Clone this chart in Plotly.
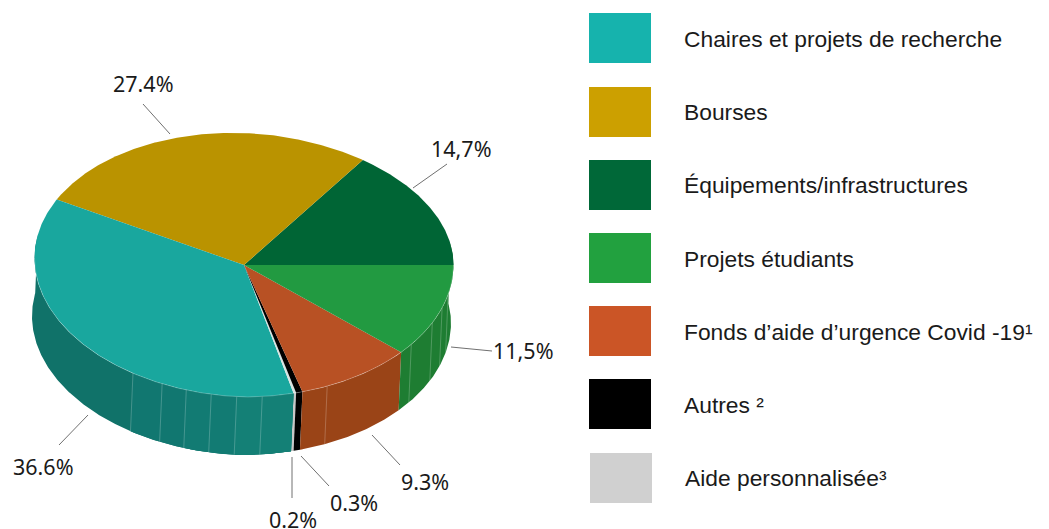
import math
import plotly.graph_objects as go

# ---- data (legend order) ----
categories = ["Chaires et projets de recherche", "Bourses", "Équipements/infrastructures",
              "Projets étudiants", "Fonds d’aide d’urgence Covid -19¹", "Autres ²", "Aide personnalisée³"]
printed_labels = ["36.6%", "27.4%", "14,7%", "11,5%", "9.3%", "0.3%", "0.2%"]
# slice shares as they are actually drawn in the picture (%), read from the slice boundaries
values = [36.2, 27.2, 15.4, 11.5, 9.0, 0.5, 0.2]
swatch_colors = ["#16B3AD", "#CCA000", "#006838", "#22A13F", "#CB5526", "#000000", "#D0D0D0"]
top_colors = ["#19A79E", "#BA9300", "#006535", "#229A41", "#B85124", "#000000", "#D8E4E2"]
side_colors = ["#107269", "#8A6D00", "#004D28", "#1E7D32", "#9A4417", "#000000", "#C8C8C8"]
draw_order = [2, 1, 0, 6, 5, 4, 3]           # counter-clockwise from the right

# side stripes, in degrees on the rim
stripe_angles = [238, 247, 254, 261, 268, 275, 293.4, 323, 334, 341, 347]
# lighter panels of the teal side: start angle, colour
teal_shades = [(238, "#117770"), (254, "#127B73"), (268, "#148076")]

# leader lines
leader_x = [[59, 88], [143, 170], [413, 447], [451, 492], [372, 400], [301, 329], [292, 292]]
leader_y = [[445, 415], [104, 134], [188, 164], [347, 351], [435, 465], [456, 486], [457, 498]]
label_x = [43, 143, 461, 523, 425, 354, 293]
label_y = [466, 83, 148, 350, 481, 502, 519]

legend_y = [39, 112, 185, 258.5, 332, 405, 478]
swatch_top = [13, 87, 160, 233, 306, 379, 453]

# ---- geometry ----
CX, CY, RX, RY = 244, 265, 209.5, 132
BX, BY = 241.5, 323
LABEL_FONT = "Noto Sans"
LEGEND_FONT = "Liberation Sans"


def rim(t, cx, cy):
    """Point on the slightly skewed rim of the disc."""
    c, s = math.cos(math.radians(t)), math.sin(math.radians(t))
    skew = 7 * c if c < 0 else (8 * c * s if s > 0 else 0)
    return cx + RX * c, cy - RY * s + skew


def arc(t0, t1, cx, cy, step=0.5):
    n = max(2, int(abs(t1 - t0) / step) + 1)
    pts = [rim(t0 + (t1 - t0) * i / (n - 1), cx, cy) for i in range(n)]
    return [p[0] for p in pts], [p[1] for p in pts]


fig = go.Figure()


def poly(xs, ys, color):
    fig.add_trace(go.Scatter(x=xs, y=ys, mode="lines", fill="toself", fillcolor=color,
                             line=dict(width=0, color=color), hoverinfo="skip", showlegend=False))


def side(t0, t1, color):
    x1, y1 = arc(t0, t1, CX, CY)
    x2, y2 = arc(t1, t0, BX, BY)
    poly(x1 + x2, y1 + y2, color)


# angular spans from values
spans = {}
a = 0.0
for i in draw_order:
    spans[i] = (a, a + values[i] * 3.6)
    a += values[i] * 3.6

# sides (front half only)
for i in draw_order:
    t0, t1 = spans[i]
    if t1 <= 170:
        continue
    side(max(t0, 170), t1 + (10 if i == 3 else 0), side_colors[i])
for start, color in teal_shades:
    side(start, spans[0][1], color)

for t in stripe_angles:
    p, q = rim(t, CX, CY), rim(t, BX, BY)
    fig.add_trace(go.Scatter(x=[p[0], q[0]], y=[p[1], q[1]], mode="lines",
                             line=dict(width=0.8, color="rgba(255,255,255,0.28)"),
                             hoverinfo="skip", showlegend=False))

# top
for i in draw_order:
    t0, t1 = spans[i]
    x, y = arc(t0, t1, CX, CY)
    poly([CX] + x + [CX], [CY] + y + [CY], top_colors[i])

# rim highlight
x, y = arc(180, 360, CX, CY)
fig.add_trace(go.Scatter(x=x, y=y, mode="lines", line=dict(width=0.6, color="rgba(255,255,255,0.4)"),
                         hoverinfo="skip", showlegend=False))

# leaders
for lx, ly in zip(leader_x, leader_y):
    fig.add_trace(go.Scatter(x=lx, y=ly, mode="lines", line=dict(width=1, color="#707070"),
                             hoverinfo="skip", showlegend=False))

annotations = []
for t, x, y in zip(printed_labels, label_x, label_y):
    annotations.append(dict(x=x, y=y, text=t, showarrow=False, xanchor="center", yanchor="middle",
                            font=dict(family=LABEL_FONT, size=21.5, color="#1a1a1a")))

shapes = []
for k, (name, col, st, ly) in enumerate(zip(categories, swatch_colors, swatch_top, legend_y)):
    dx = 1 if k == 6 else 0
    shapes.append(dict(type="rect", x0=589 + dx, x1=651 + dx, y0=st, y1=st + 50,
                       fillcolor=col, line=dict(width=0), layer="above"))
    annotations.append(dict(x=682 + dx, y=ly, text=name, showarrow=False, xanchor="left", yanchor="middle",
                            font=dict(family=LEGEND_FONT, size=22.8, color="#1a1a1a")))

fig.update_layout(width=1049, height=529, margin=dict(l=0, r=0, t=0, b=0),
                  paper_bgcolor="white", plot_bgcolor="white", showlegend=False,
                  xaxis=dict(range=[0, 1049], visible=False, fixedrange=True),
                  yaxis=dict(range=[529, 0], visible=False, fixedrange=True),
                  shapes=shapes, annotations=annotations)
fig.write_html("out.html", config=dict(displayModeBar=False),
               post_script="document.body.style.margin='0';document.body.style.overflow='hidden';")
